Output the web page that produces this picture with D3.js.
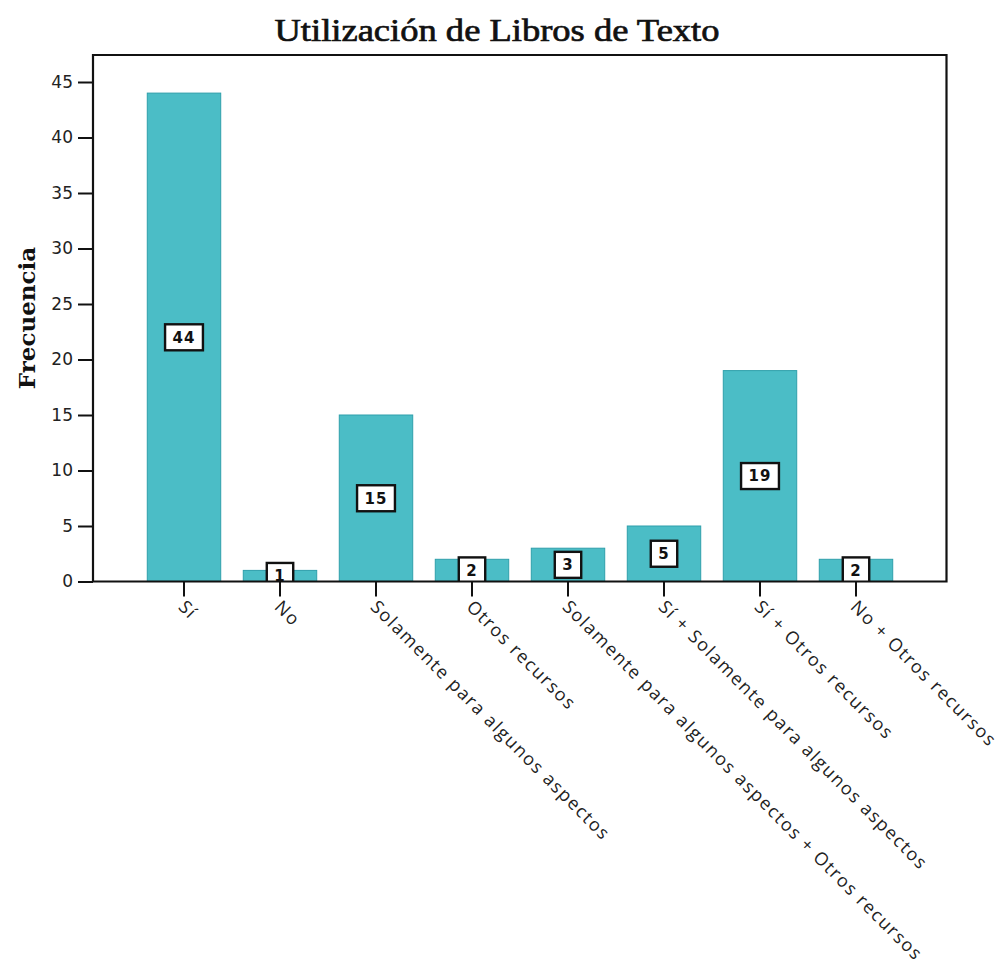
<!DOCTYPE html>
<html>
<head>
<meta charset="utf-8">
<script src="https://cdn.jsdelivr.net/npm/d3@7/dist/d3.min.js"></script>
<style>
  html, body { margin: 0; padding: 0; background: #fff; }
  svg { display: block; }
</style>
</head>
<body>
<svg id="chart" width="1005" height="978"></svg>
<script>
const title = "Utilización de Libros de Texto";
const yTitle = "Frecuencia";
const categories = [
  "Sí",
  "No",
  "Solamente para algunos aspectos",
  "Otros recursos",
  "Solamente para algunos aspectos + Otros recursos",
  "Sí + Solamente para algunos aspectos",
  "Sí + Otros recursos",
  "No + Otros recursos"
];
const counts = [44, 1, 15, 2, 3, 5, 19, 2];
const yTicks = [0, 5, 10, 15, 20, 25, 30, 35, 40, 45];

const svg = d3.select("#chart");
const frame = { left: 93, right: 946.5, top: 55, bottom: 581.5 };

const x = d3.scaleBand()
  .domain(categories)
  .range([136, 904])
  .paddingInner(0.235)
  .paddingOuter(0.1175);

const y = d3.scaleLinear()
  .domain([0, 45])
  .range([frame.bottom, 82]);

svg.append("defs").append("clipPath").attr("id", "plotclip")
  .append("rect")
  .attr("x", frame.left).attr("y", frame.top)
  .attr("width", frame.right - frame.left)
  .attr("height", frame.bottom - frame.top);

// Title
svg.append("text")
  .attr("x", 497)
  .attr("y", 41)
  .attr("text-anchor", "middle")
  .attr("font-family", "Liberation Serif, serif")
  .attr("font-size", 32)
  .attr("textLength", 445)
  .attr("lengthAdjust", "spacingAndGlyphs")
  .attr("fill", "#111")
  .attr("stroke", "#111")
  .attr("stroke-width", 0.7)
  .text(title);

// Bars
const data = categories.map((c, i) => ({ c, v: counts[i] }));
svg.append("g")
  .selectAll("rect")
  .data(data)
  .join("rect")
  .attr("x", d => x(d.c))
  .attr("y", d => y(d.v))
  .attr("width", x.bandwidth())
  .attr("height", d => y(0) - y(d.v))
  .attr("fill", "#4bbdc6")
  .attr("stroke", "#2f9fab")
  .attr("stroke-width", 1);

// Bar value labels
const lbl = svg.append("g").attr("clip-path", "url(#plotclip)")
  .selectAll("g")
  .data(data)
  .join("g")
  .attr("transform", d => `translate(${x(d.c) + x.bandwidth() / 2},${y(d.v / 2)})`);
lbl.each(function(d) {
  const g = d3.select(this);
  const rect = g.append("rect");
  const t = g.append("text")
    .attr("text-anchor", "middle")
    .attr("dy", "0.36em")
    .attr("font-family", "DejaVu Sans, sans-serif")
    .attr("font-weight", "bold")
    .attr("font-size", 15)
    .attr("letter-spacing", 1)
    .attr("fill", "#111")
    .text(d.v);
  const w = t.node().getComputedTextLength();
  const bw = w + 15, bh = 26;
  rect.attr("x", -bw / 2).attr("y", -bh / 2)
    .attr("width", bw).attr("height", bh)
    .attr("fill", "#fff").attr("stroke", "#111").attr("stroke-width", 2.4);
});

// Y axis
const yAxis = svg.append("g")
  .attr("transform", `translate(${frame.left},0)`)
  .call(d3.axisLeft(y).tickValues(yTicks).tickSize(15).tickPadding(5));
yAxis.select(".domain").remove();
yAxis.selectAll(".tick line").attr("stroke", "#111").attr("stroke-width", 2);
yAxis.selectAll(".tick text")
  .attr("font-family", "DejaVu Sans, sans-serif")
  .attr("font-size", 17)
  .attr("fill", "#222");

// X axis
const xAxis = svg.append("g")
  .attr("transform", `translate(0,${frame.bottom})`)
  .call(d3.axisBottom(x).tickSize(15));
xAxis.select(".domain").remove();
xAxis.selectAll(".tick line").attr("stroke", "#111").attr("stroke-width", 2);
xAxis.selectAll(".tick text")
  .attr("font-family", "Open Sans, sans-serif")
  .attr("font-size", 18)
  .attr("letter-spacing", 1.55)
  .attr("fill", "#222")
  .attr("text-anchor", "start")
  .attr("x", 0)
  .attr("y", 0)
  .attr("dy", "0.35em")
  .attr("transform", "translate(-2,22) rotate(45)");

// Frame
svg.append("path")
  .attr("d", `M${frame.left},${frame.bottom}V${frame.top}H${frame.right}V${frame.bottom}H${frame.left}`)
  .attr("fill", "none")
  .attr("stroke", "#111")
  .attr("stroke-width", 2.2);

// Y title
svg.append("text")
  .attr("transform", `translate(35,318) rotate(-90)`)
  .attr("text-anchor", "middle")
  .attr("font-family", "DejaVu Serif, serif")
  .attr("font-weight", "bold")
  .attr("font-size", 23)
  .attr("fill", "#111")
  .text(yTitle);
</script>
</body>
</html>
